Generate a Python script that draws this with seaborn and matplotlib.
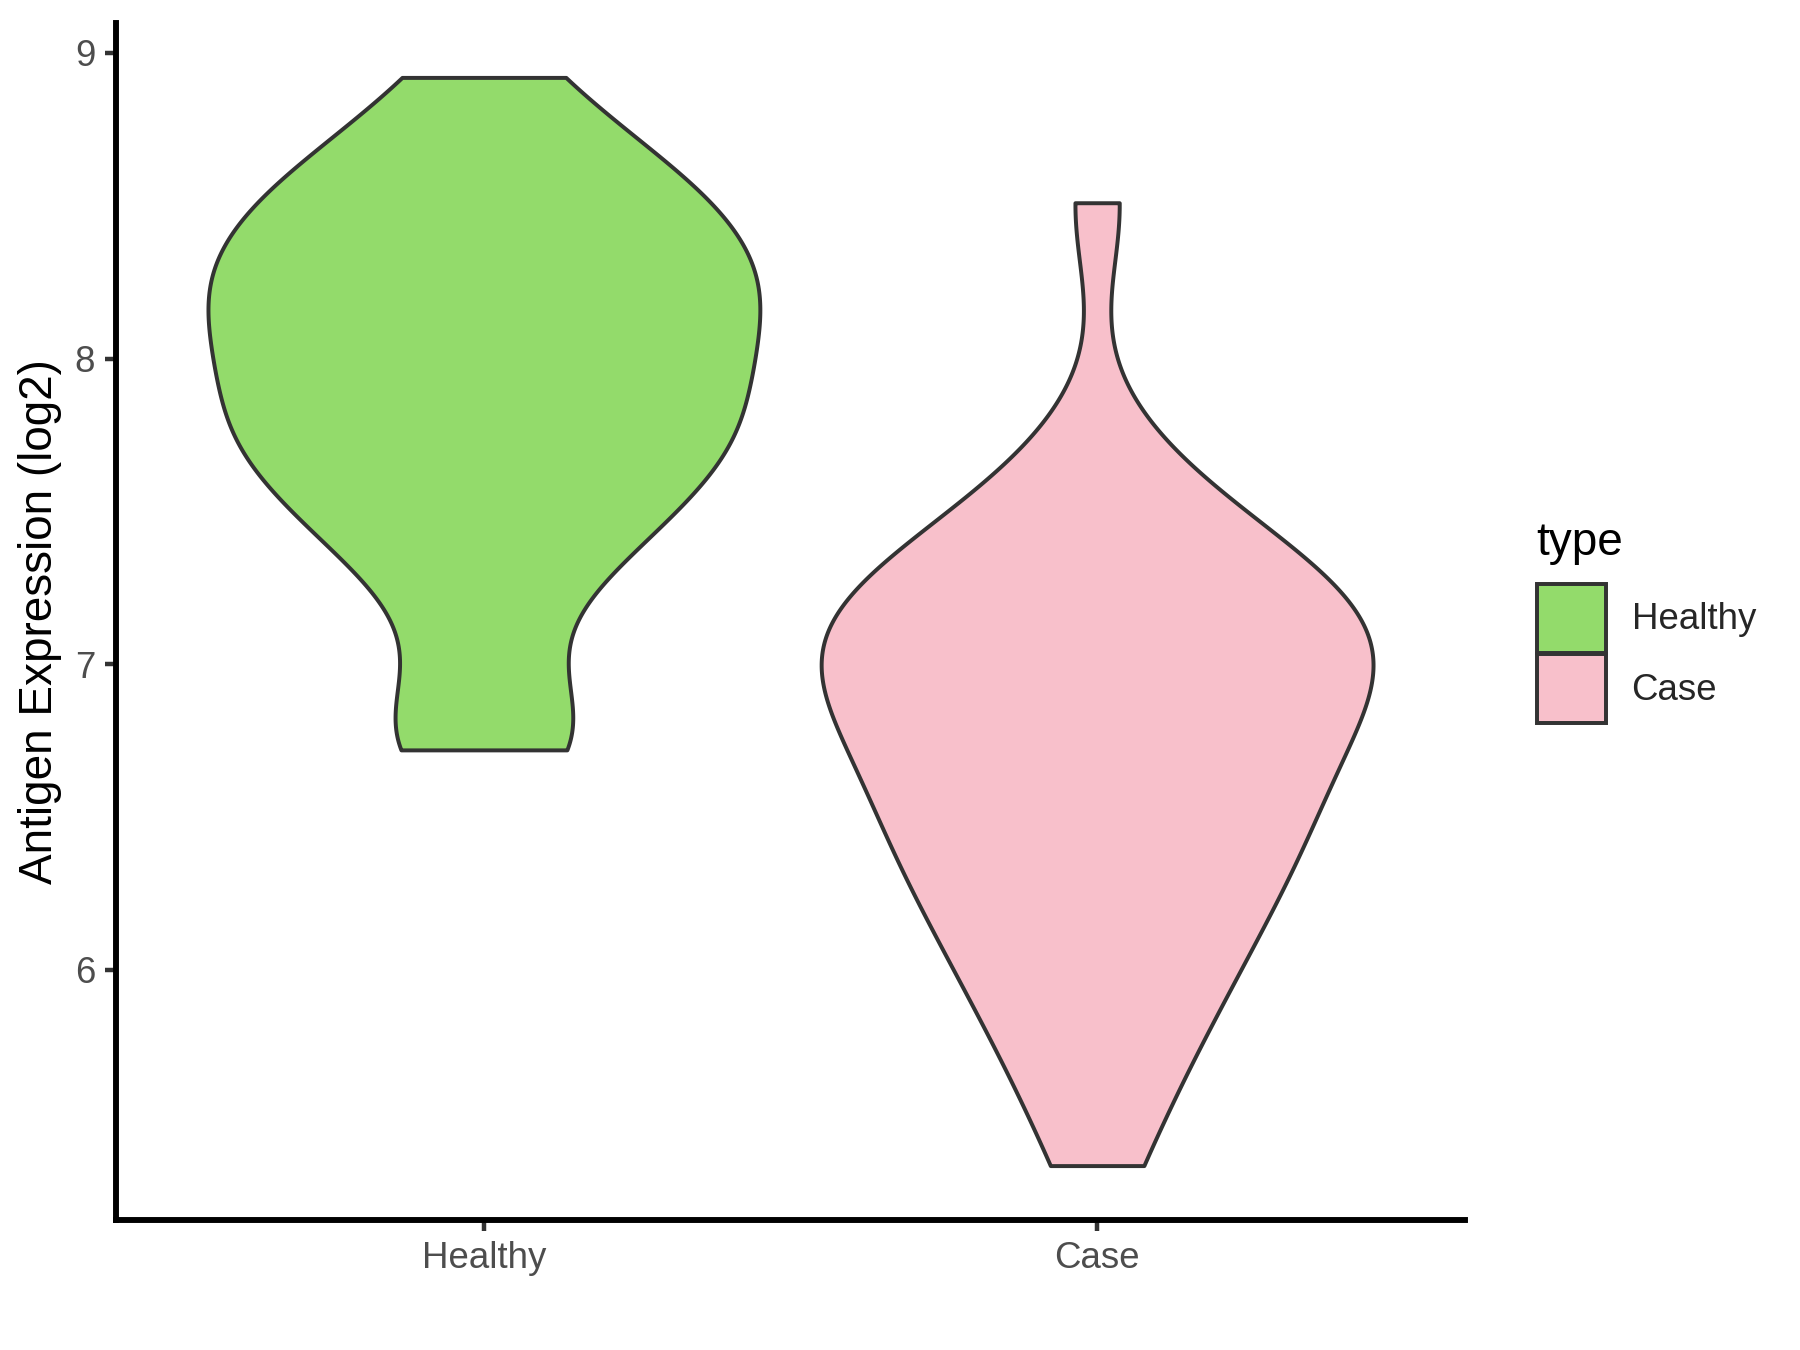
import numpy as np
import pandas as pd
import matplotlib
matplotlib.use("Agg")
import matplotlib.pyplot as plt
from matplotlib.patches import Patch
import seaborn as sns

# ---------------- data ----------------
types = ["Healthy", "Case"]
healthy_values = [6.72, 6.74, 7.01, 7.28, 7.38, 7.50, 7.58, 7.65, 7.72, 7.78,
                  7.84, 7.91, 7.98, 8.05, 8.11, 8.17, 8.23, 8.29, 8.35, 8.41,
                  8.48, 8.56, 8.63, 8.73, 8.92]
case_values = [5.36, 5.60, 5.75, 5.87, 5.98, 6.07, 6.16, 6.23, 6.31, 6.38,
               6.44, 6.50, 6.56, 6.62, 6.68, 6.75, 6.80, 6.85, 6.90, 6.95,
               6.99, 7.04, 7.08, 7.12, 7.15, 7.20, 7.25, 7.30, 7.36, 7.43,
               7.52, 7.70, 8.51]
y_ticks = [6, 7, 8, 9]
y_label = "Antigen Expression (log2)"
legend_title = "type"

# ---------------- styles ----------------
fill_colors = ["#93DB6B", "#F8C0CB"]
kde_bandwidths = [0.20, 0.25]   # kernel std in data units
edge_color = "#333333"

sns.set_theme(style="ticks")
plt.rcParams["font.family"] = ["Liberation Sans", "DejaVu Sans"]

df = pd.DataFrame({
    "type": ["Healthy"] * len(healthy_values) + ["Case"] * len(case_values),
    "value": healthy_values + case_values,
})
palette = dict(zip(types, fill_colors))

fig = plt.figure(figsize=(6, 4.5), dpi=300)
W, H = 1800, 1350
ax = fig.add_axes([116 / W, 1 - 1220 / H, (1465 - 116) / W, (1220 - 23) / H])

for t, h in zip(types, kde_bandwidths):
    sub = df[df["type"] == t]
    sd = sub["value"].std(ddof=1)
    sns.violinplot(data=sub, x="type", y="value", hue="type",
                   order=types, hue_order=types, palette=palette,
                   saturation=1, cut=0, density_norm="width", width=0.9,
                   inner=None, linewidth=0.95, linecolor=edge_color,
                   bw_method=h / sd, gridsize=400, legend=False, ax=ax)

lo, hi = df["value"].min(), df["value"].max()
pad = 0.05 * (hi - lo)
ax.set_ylim(lo - pad, hi + pad)
ax.set_xlim(-0.6, 1.6)
ax.set_yticks(y_ticks)
ax.set_yticklabels([str(v) for v in y_ticks])
ax.set_xlabel("")
ax.set_ylabel(y_label, fontsize=11, color="black", labelpad=3.2)

for s in ["top", "right"]:
    ax.spines[s].set_visible(False)
for s in ["left", "bottom"]:
    ax.spines[s].set_linewidth(1.42)
    ax.spines[s].set_color("black")
ax.tick_params(axis="both", length=2.75, width=1.07, color=edge_color,
               labelcolor="#4D4D4D", labelsize=8.8, pad=2.2)
ax.grid(False)

# legend (ggplot-like: square keys with dark border, title above)
handles = [Patch(facecolor=c, edgecolor=edge_color, linewidth=0.95,
                 label=t, joinstyle="round")
           for t, c in zip(types, fill_colors)]
leg = ax.legend(handles=handles, loc="center left",
                bbox_to_anchor=(1537 / W, 1 - 653.5 / H),
                bbox_transform=fig.transFigure, frameon=False,
                fontsize=8.8, handlelength=1.88, handleheight=2.515,
                labelspacing=0.05, handletextpad=0.7,
                borderpad=0, borderaxespad=0)
fig.text(1536 / W, 1 - 555 / H, legend_title, fontsize=11, color="black",
         ha="left", va="baseline")

fig.savefig("out.png", dpi=300)
